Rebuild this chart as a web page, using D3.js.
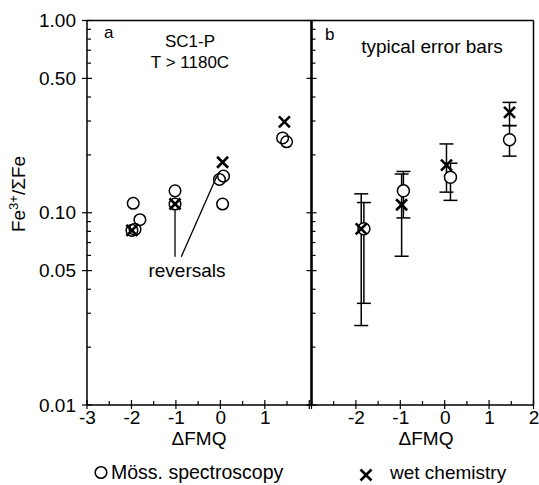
<!DOCTYPE html>
<html>
<head>
<meta charset="utf-8">
<script src="https://cdn.jsdelivr.net/npm/d3@7"></script>
<style>
  html, body { margin: 0; padding: 0; background: #fff; }
  svg { display: block; }
  text { font-family: "Liberation Sans", Arial, Helvetica, sans-serif; fill: #000; }
</style>
</head>
<body>
<svg id="chart" width="539" height="485"></svg>
<script>
// ---------------- data ----------------
// Panel a: SC1-P, T > 1180C
const aMossX = [-1.96, -1.81, -1.99, -1.92, -1.02, -1.02, -0.02, 0.07, 0.05, 1.40, 1.49];
const aMossY = [0.112, 0.092, 0.081, 0.082, 0.130, 0.111, 0.149, 0.155, 0.111, 0.245, 0.234];
const aWetX  = [-1.99, -1.02, 0.05, 1.44];
const aWetY  = [0.081, 0.111, 0.183, 0.297];

// Panel b: typical error bars
const bMossX  = [-1.82, -0.93, 0.13, 1.46];
const bMossY  = [0.0825, 0.130, 0.153, 0.240];
const bMossLo = [0.0338, 0.094, 0.116, 0.197];
const bMossHi = [0.113, 0.164, 0.181, 0.284];
const bWetX   = [-1.88, -0.97, 0.04, 1.46];
const bWetY   = [0.0825, 0.110, 0.177, 0.333];
const bWetLo  = [0.0259, 0.0594, 0.128, 0.284];
const bWetHi  = [0.1254, 0.159, 0.228, 0.375];

// "reversals" pointer lines (data coordinates)
const pointerFrom = [[-1.02, 0.059], [-0.88, 0.059]];
const pointerTo   = [[-1.02, 0.104], [-0.08, 0.155]];

// tick labels
const yTickLabels = [1.00, 0.50, 0.10, 0.05, 0.01];
const aXTickLabels = [-3, -2, -1, 0, 1];
const bXTickLabels = [-2, -1, 0, 1, 2];
const xMinorStep = 0.5;

// ---------------- layout ----------------
const svg = d3.select("#chart");
const plotTop = 20.5, plotBottom = 405;
const leftX = 87, midX = 311.5, rightX = 533.5;

const y = d3.scaleLog().domain([0.01, 1]).range([plotBottom, plotTop]);
const xA = d3.scaleLinear().domain([-3, 2.05]).range([leftX, midX]);
const xB = d3.scaleLinear().domain([-3, 2]).range([midX, rightX]);

const tickFont = 19;

// frame
svg.append("line").attr("x1", leftX).attr("x2", rightX).attr("y1", plotTop).attr("y2", plotTop)
  .attr("stroke", "#000").attr("stroke-width", 1.5);
svg.append("line").attr("x1", leftX).attr("x2", rightX).attr("y1", plotBottom).attr("y2", plotBottom)
  .attr("stroke", "#000").attr("stroke-width", 1.5);
svg.append("line").attr("x1", leftX).attr("x2", leftX).attr("y1", plotTop).attr("y2", plotBottom)
  .attr("stroke", "#000").attr("stroke-width", 1.5);
svg.append("line").attr("x1", midX).attr("x2", midX).attr("y1", plotTop).attr("y2", plotBottom)
  .attr("stroke", "#000").attr("stroke-width", 2.6);
svg.append("line").attr("x1", rightX).attr("x2", rightX).attr("y1", plotTop).attr("y2", plotBottom)
  .attr("stroke", "#000").attr("stroke-width", 1.5);

// y ticks (log minor ticks from the scale)
const yAll = y.ticks();
const isMajor = v => yTickLabels.some(t => Math.abs(t - v) / v < 1e-6);
function yTicks(x0) {
  const g = svg.append("g");
  yAll.forEach(v => {
    const maj = isMajor(v);
    g.append("line")
      .attr("x1", maj ? x0 - 5 : x0).attr("x2", x0 + (maj ? 5 : 4))
      .attr("y1", y(v)).attr("y2", y(v))
      .attr("stroke", "#000").attr("stroke-width", 1.2);
  });
}
yTicks(leftX);
yTicks(midX);

// y tick labels via d3 axis
const yAxis = svg.append("g").attr("transform", `translate(${leftX},0)`)
  .call(d3.axisLeft(y).tickValues(yTickLabels).tickFormat(d3.format(".2f")).tickSize(0).tickPadding(11));
yAxis.select(".domain").remove();
yAxis.selectAll("text").attr("font-size", tickFont).attr("font-family", "Liberation Sans, Arial, sans-serif");

// x ticks
function xTicks(scale, labels) {
  const [d0, d1] = scale.domain();
  const g = svg.append("g");
  const vals = d3.range(Math.ceil(d0 / xMinorStep) * xMinorStep, d1 + 1e-9, xMinorStep);
  vals.forEach(v => {
    const maj = Math.abs(v - Math.round(v)) < 1e-9;
    g.append("line")
      .attr("x1", scale(v)).attr("x2", scale(v))
      .attr("y1", plotBottom - (maj ? 5 : 4)).attr("y2", plotBottom + (maj ? 4 : 0))
      .attr("stroke", "#000").attr("stroke-width", 1.2);
  });
  const ax = svg.append("g").attr("transform", `translate(0,${plotBottom})`)
    .call(d3.axisBottom(scale).tickValues(labels).tickFormat(d3.format("d")).tickSize(0).tickPadding(6));
  ax.select(".domain").remove();
  ax.selectAll("text").attr("font-size", tickFont).attr("font-family", "Liberation Sans, Arial, sans-serif")
    .text(d => (d < 0 ? "-" + Math.abs(d) : String(d)));
}
xTicks(xA, aXTickLabels);
xTicks(xB, bXTickLabels);

// axis titles
svg.append("text").attr("x", 199).attr("y", 445).attr("text-anchor", "middle")
  .attr("font-size", 19).text("\u0394FMQ");
svg.append("text").attr("x", 426).attr("y", 445).attr("text-anchor", "middle")
  .attr("font-size", 19).text("\u0394FMQ");

const yl = svg.append("text").attr("transform", "translate(25,194) rotate(-90)")
  .attr("text-anchor", "middle").attr("font-size", 19);
yl.append("tspan").text("Fe");
yl.append("tspan").attr("font-size", 13).attr("dy", -7).text("3+");
yl.append("tspan").attr("dy", 7).text("/\u03A3Fe");

// panel labels
svg.append("text").attr("x", 104).attr("y", 38).attr("font-size", 17).text("a");
svg.append("text").attr("x", 190).attr("y", 47).attr("text-anchor", "middle").attr("font-size", 17).text("SC1-P");
svg.append("text").attr("x", 190).attr("y", 68).attr("text-anchor", "middle").attr("font-size", 17).text("T > 1180C");
svg.append("text").attr("x", 325).attr("y", 40).attr("font-size", 17).text("b");
svg.append("text").attr("x", 432).attr("y", 53).attr("text-anchor", "middle").attr("font-size", 19).text("typical error bars");

// markers
const r = 5.8, s = 5.5;
function crossPath(cx, cy, h) {
  return `M${cx - h},${cy - h}L${cx + h},${cy + h}M${cx - h},${cy + h}L${cx + h},${cy - h}`;
}

// panel a
const ga = svg.append("g");
ga.selectAll("circle").data(aMossX.map((v, i) => [v, aMossY[i]])).join("circle")
  .attr("cx", d => xA(d[0])).attr("cy", d => y(d[1])).attr("r", r)
  .attr("fill", "none").attr("stroke", "#000").attr("stroke-width", 1.5);
ga.selectAll("path").data(aWetX.map((v, i) => [v, aWetY[i]])).join("path")
  .attr("d", d => crossPath(xA(d[0]), y(d[1]), s))
  .attr("stroke", "#000").attr("stroke-width", 2.6).attr("fill", "none");

// reversals pointer lines and label
svg.append("g").selectAll("line").data(pointerFrom.map((p, i) => [p, pointerTo[i]])).join("line")
  .attr("x1", d => xA(d[0][0])).attr("y1", d => y(d[0][1]))
  .attr("x2", d => xA(d[1][0])).attr("y2", d => y(d[1][1]))
  .attr("stroke", "#000").attr("stroke-width", 1.3);
svg.append("text").attr("x", 187).attr("y", 277).attr("text-anchor", "middle")
  .attr("font-size", 19).text("reversals");

// panel b: error bars
const capW = 7;
function errBars(xs, lo, hi) {
  const g = svg.append("g").attr("stroke", "#000").attr("stroke-width", 1.5).attr("fill", "none");
  xs.forEach((xv, i) => {
    const cx = xB(xv);
    g.append("line").attr("x1", cx).attr("x2", cx).attr("y1", y(lo[i])).attr("y2", y(hi[i]));
    g.append("line").attr("x1", cx - capW).attr("x2", cx + capW).attr("y1", y(lo[i])).attr("y2", y(lo[i]));
    g.append("line").attr("x1", cx - capW).attr("x2", cx + capW).attr("y1", y(hi[i])).attr("y2", y(hi[i]));
  });
}
errBars(bWetX, bWetLo, bWetHi);
errBars(bMossX, bMossLo, bMossHi);

const gb = svg.append("g");
gb.selectAll("circle").data(bMossX.map((v, i) => [v, bMossY[i]])).join("circle")
  .attr("cx", d => xB(d[0])).attr("cy", d => y(d[1])).attr("r", r + 0.2)
  .attr("fill", "#fff").attr("stroke", "#000").attr("stroke-width", 1.5);
gb.selectAll("path").data(bWetX.map((v, i) => [v, bWetY[i]])).join("path")
  .attr("d", d => crossPath(xB(d[0]), y(d[1]), s))
  .attr("stroke", "#000").attr("stroke-width", 2.6).attr("fill", "none");

// legend
svg.append("circle").attr("cx", 101).attr("cy", 472.5).attr("r", 5.8)
  .attr("fill", "none").attr("stroke", "#000").attr("stroke-width", 1.5);
svg.append("text").attr("x", 111).attr("y", 479).attr("font-size", 19.5).text("M\u00F6ss. spectroscopy");
svg.append("path").attr("d", crossPath(366, 475, 5.5))
  .attr("stroke", "#000").attr("stroke-width", 2.6).attr("fill", "none");
svg.append("text").attr("x", 390).attr("y", 479).attr("font-size", 19).text("wet chemistry");
</script>
</body>
</html>
